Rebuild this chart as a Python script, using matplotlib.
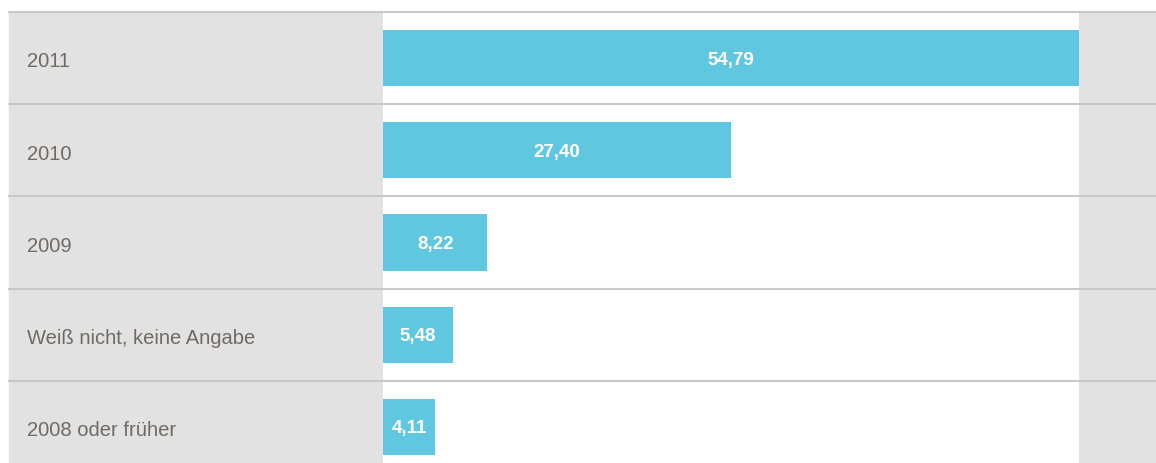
import matplotlib.pyplot as plt
from matplotlib.patches import Rectangle

categories = ["2011", "2010", "2009", "Weiß nicht, keine Angabe", "2008 oder früher"]
values = [54.79, 27.40, 8.22, 5.48, 4.11]
value_labels = ["54,79", "27,40", "8,22", "5,48", "4,11"]

W, H = 1156, 464
fig = plt.figure(figsize=(W / 100, H / 100), dpi=100, facecolor="white")
plt.rcParams["font.family"] = ["Liberation Sans", "DejaVu Sans"]

gray = "#e3e2e2"
line_col = "#c9c8c8"
bar_col = "#5fc8e0"
text_col = "#6f6a68"

# gray side panels (figure coords), behind the axes
top_px = 13
fig.patches.append(Rectangle((9 / W, 0), (383 - 9) / W, (H - top_px) / H,
                             transform=fig.transFigure, color=gray, zorder=-5))
fig.patches.append(Rectangle((1079 / W, 0), (W - 1079) / W, (H - top_px) / H,
                             transform=fig.transFigure, color=gray, zorder=-5))

ax_left, ax_right = 383, 1079
ax = fig.add_axes([ax_left / W, 0, (ax_right - ax_left) / W, (H - top_px) / H])
ax.set_facecolor("white")
row_px = 92.2
n_rows_visible = (H - top_px) / row_px
ax.set_xlim(0, max(values))
ax.set_ylim(-0.5 + n_rows_visible, -0.5)
for s in ax.spines.values():
    s.set_visible(False)
ax.set_xticks([])
ax.set_yticks([])

y = list(range(len(categories)))
ax.barh(y, values, height=0.61, color=bar_col, zorder=2)

xmin = (9 - ax_left) / (ax_right - ax_left)
xmax = (W - ax_left) / (ax_right - ax_left)
for b in [i - 0.5 for i in range(len(categories) + 1)]:
    ax.axhline(b, xmin=xmin, xmax=xmax, color=line_col, lw=1.5, clip_on=False, zorder=3)

label_x = (27 - ax_left) / (ax_right - ax_left)
for yi, cat, v, lab in zip(y, categories, values, value_labels):
    ax.text(label_x, yi + 0.03, cat, transform=ax.get_yaxis_transform(), ha="left", va="center",
            fontsize=14.5, color=text_col, clip_on=False)
    ax.text(v / 2, yi + 0.01, lab, ha="center", va="center", fontsize=13.5,
            fontweight="bold", color="white", zorder=4)

fig.savefig("out.png", dpi=100, facecolor="white")
